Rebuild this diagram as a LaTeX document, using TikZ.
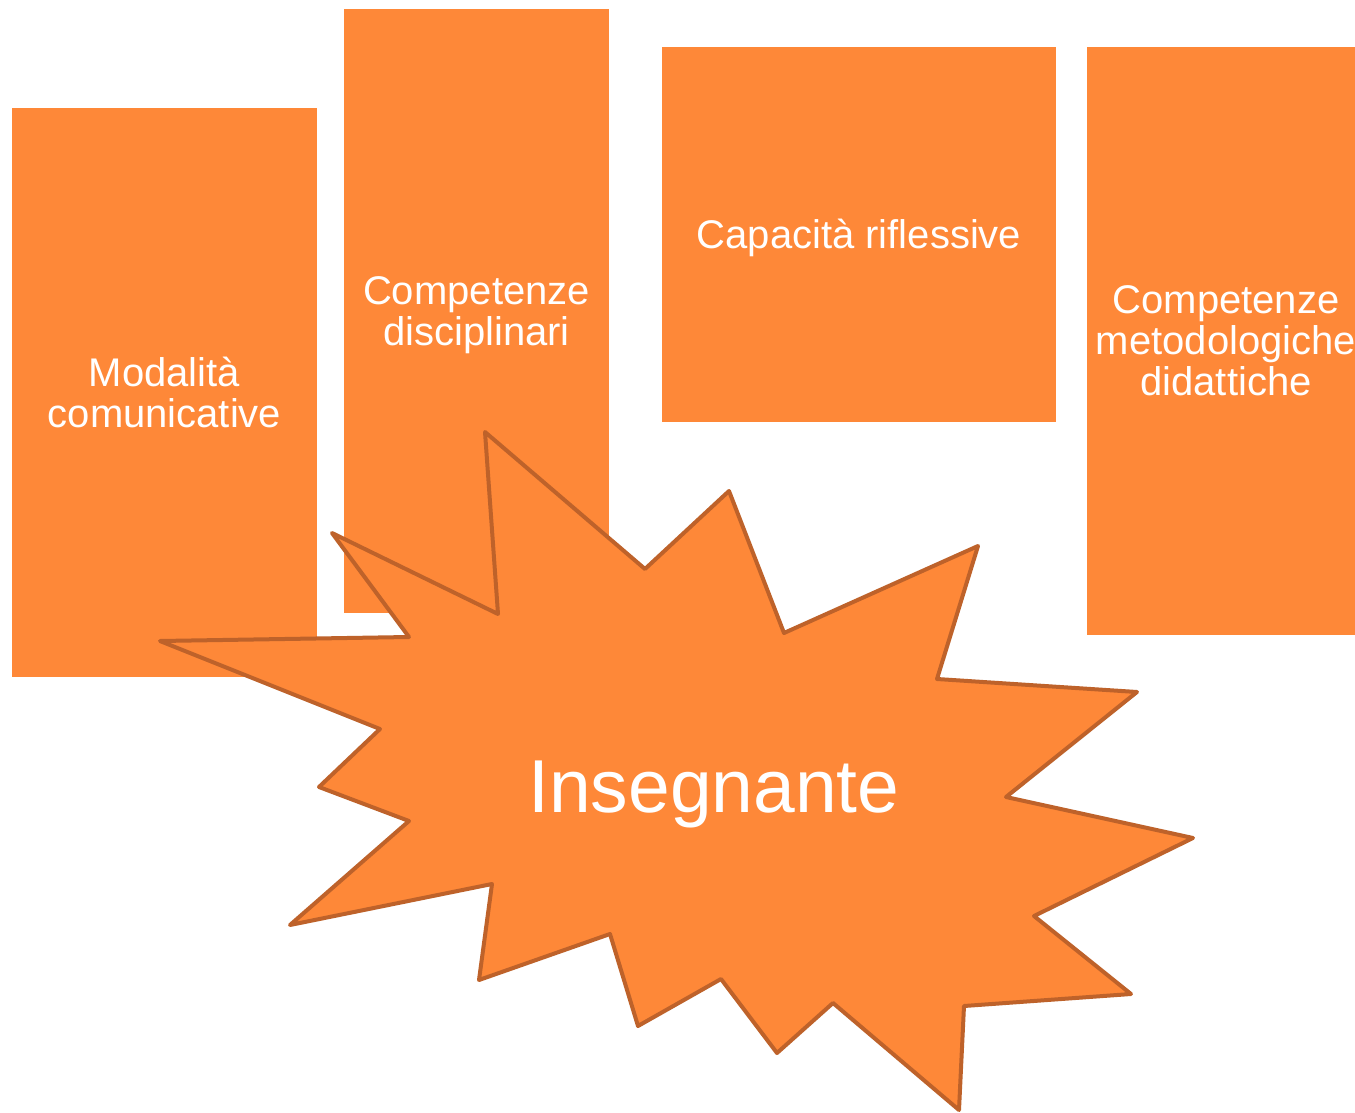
\documentclass[tikz,border=0pt]{standalone}
\usepackage{fontspec}
\setmainfont{Liberation Sans}
\definecolor{boxorange}{RGB}{254,136,56}
\definecolor{starline}{RGB}{190,98,42}
\begin{document}
\begin{tikzpicture}[x=1pt,y=-1pt,
  box/.style={fill=boxorange, draw=none, inner sep=0pt, outer sep=0pt},
  boxtext/.style={text=white, align=center, inner sep=0pt, font=\fontsize{40}{41}\selectfont},
  starshape/.style={fill=boxorange, draw=starline, line width=4pt, line join=round},
  startext/.style={text=white, font=\fontsize{75}{75}\selectfont, inner sep=0pt}]
\useasboundingbox (0,0) rectangle (1355,1113);
\clip (0,0) rectangle (1355,1113);
\fill[white] (0,0) rectangle (1355,1113);
\node[box, minimum width=305pt, minimum height=569pt] (mod) at (164.5,392.5) {};
\node[box, minimum width=265pt, minimum height=604pt] (disc) at (476.5,311) {};
\node[box, minimum width=394pt, minimum height=375pt] (rifl) at (859,234.5) {};
\node[box, minimum width=278pt, minimum height=588pt] (meto) at (1226,341) {};
\node[boxtext] (modt) at (mod.center) {Modalità\\comunicative};
\node[boxtext] (disct) at ([yshift=-4pt]disc.center) {Competenze\\disciplinari};
\node[boxtext] (riflt) at ([yshift=-3pt]rifl.center) {Capacità riflessive};
\node[boxtext] (metot) at (meto.center) {Competenze\\metodologiche\\didattiche};
\draw[starshape] (332,533) -- (409,637) -- (160,641) -- (380,729) -- (319,787) -- (409,821)
  -- (290,925) -- (492,884) -- (479,980) -- (610,934) -- (638,1026) -- (721,979)
  -- (777,1053) -- (833,1003) -- (959,1110) -- (964,1006) -- (1131,994) -- (1034,916)
  -- (1193,838) -- (1006,797) -- (1137,692) -- (937,679) -- (978,546) -- (784,633)
  -- (729,491) -- (645,569) -- (485,432) -- (498,614) -- cycle;
\node[startext, anchor=base] (ins) at (714,812) {Insegnante};
\end{tikzpicture}
\end{document}
